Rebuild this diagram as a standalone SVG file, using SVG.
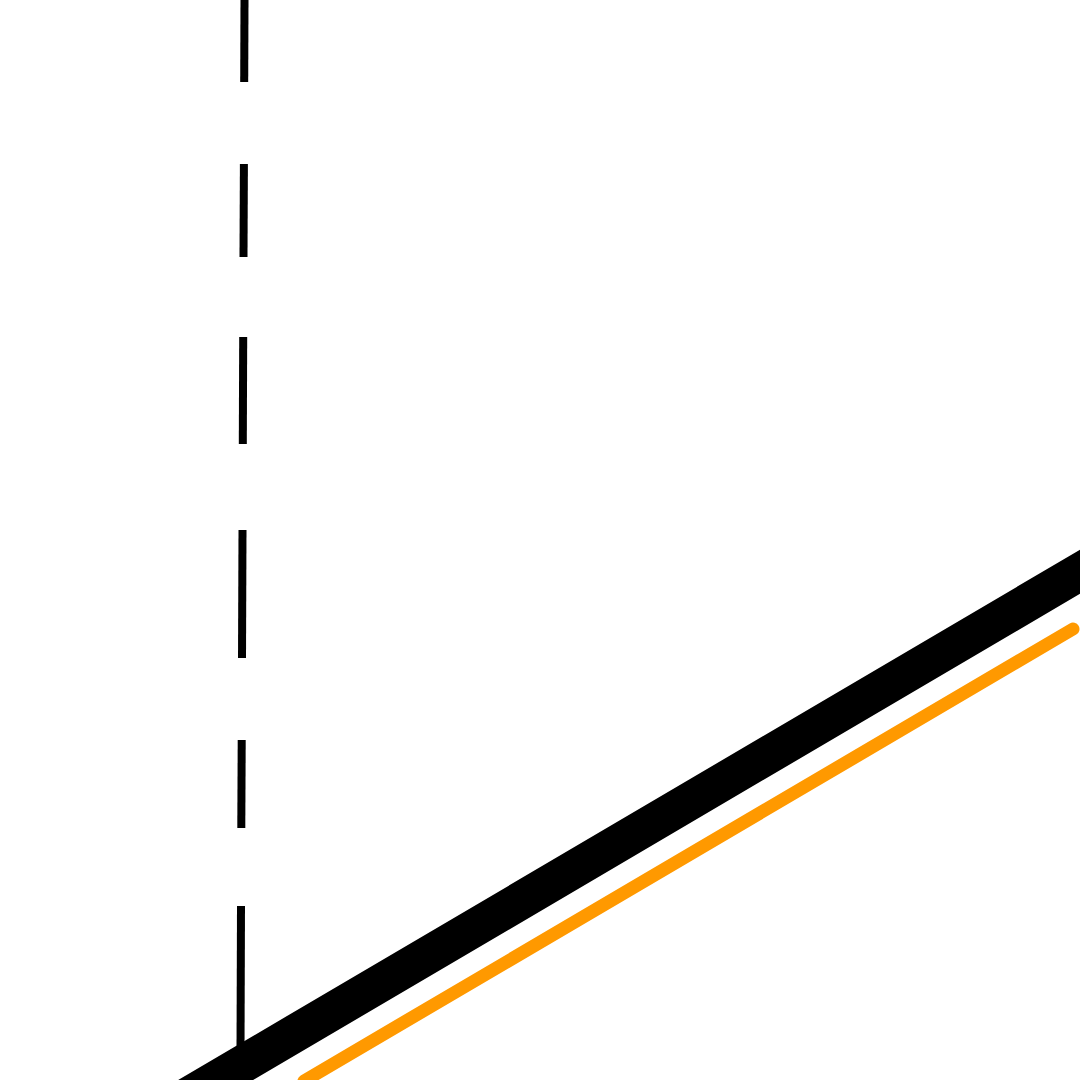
<svg xmlns="http://www.w3.org/2000/svg" width="1080" height="1080" viewBox="0 0 1080 1080">
  <style>
    .dash { stroke: #000; stroke-width: 8; fill: none; stroke-linecap: butt; }
    .beam { stroke: #000; stroke-width: 38; fill: none; stroke-linecap: round; }
    .orange { stroke: #FF9900; stroke-width: 13; fill: none; stroke-linecap: round; }
  </style>
  <rect width="1080" height="1080" fill="#fff"/>
  <g id="connectors">
    <g id="dashed-line">
      <line class="dash" x1="244.5" y1="0" x2="244.2" y2="82"/>
      <line class="dash" x1="243.9" y1="164" x2="243.5" y2="257"/>
      <line class="dash" x1="243.2" y1="337" x2="242.8" y2="444"/>
      <line class="dash" x1="242.5" y1="530" x2="242" y2="658"/>
      <line class="dash" x1="241.7" y1="740" x2="241.3" y2="828"/>
      <line class="dash" x1="241" y1="906" x2="240.5" y2="1050"/>
    </g>
    <line id="black-beam" class="beam" x1="100" y1="1148" x2="1100" y2="560"/>
    <line id="orange-line" class="orange" x1="304" y1="1081" x2="1073" y2="629"/>
  </g>
</svg>
